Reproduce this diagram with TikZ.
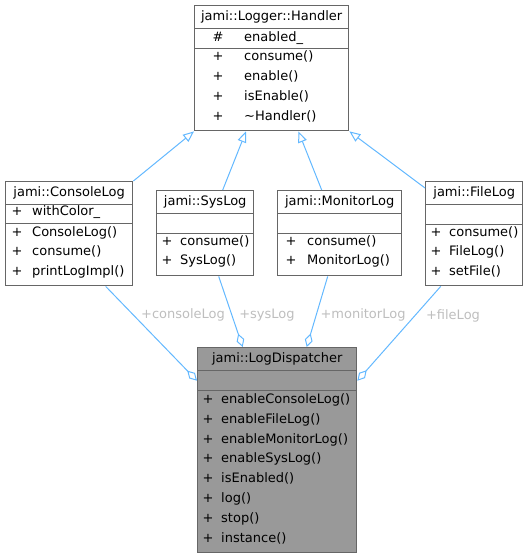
\documentclass[tikz,border=0pt]{standalone}
\usepackage{fontspec}
\setmainfont{DejaVu Sans}
\usetikzlibrary{arrows.meta}

\definecolor{boxline}{HTML}{666666}
\definecolor{focusfill}{HTML}{999999}
\definecolor{linkblue}{HTML}{63B8FF}
\definecolor{rolegray}{HTML}{BEBEBE}

\begin{document}
\begin{tikzpicture}[
    x=1pt, y=-1pt,
    every node/.style={font=\fontsize{13}{16}\selectfont, inner sep=0pt, text height=9.5pt, text depth=2.5pt},
    part/.style={draw=boxline, line width=1.4pt, fill=white, anchor=north west},
    focuspart/.style={part, fill=focusfill},
    vis/.style={anchor=center},
    member/.style={anchor=west},
    inherit/.style={draw=linkblue, line width=1pt, -{Triangle[open, length=11pt, width=9pt]}},
    aggr/.style={draw=linkblue, line width=1pt, -{Diamond[open, length=14pt, width=8pt]}},
    role/.style={text=rolegray}
]
\useasboundingbox (0,0) rectangle (528,559);

% base class
\node[part, minimum width=154pt, minimum height=23pt] (handler) at (194,5) {jami::Logger::Handler};
\node[part, minimum width=154pt, minimum height=20pt] (handler-attr) at (194,28) {};
\node[part, minimum width=154pt, minimum height=82pt] (handler-ops) at (194,48) {};
\node[vis] (handler-v0) at (218,38) {\#};
\node[member] (handler-a0) at (244,38) {enabled\_};
\foreach \y/\txt [count=\i] in {57/consume(), 77/enable(), 97/isEnable(), 117/\textasciitilde Handler()} {
  \node[vis] (handler-v\i) at (218,\y) {+};
  \node[member] (handler-m\i) at (244,\y) {\txt};
}

% ConsoleLog
\node[part, minimum width=127pt, minimum height=23pt] (console) at (5,181) {jami::ConsoleLog};
\node[part, minimum width=127pt, minimum height=19pt] (console-attr) at (5,204) {};
\node[part, minimum width=127pt, minimum height=62pt] (console-ops) at (5,223) {};
\node[vis] (console-v0) at (17,212) {+};
\node[member] (console-a0) at (32,212) {withColor\_};
\foreach \y/\txt [count=\i] in {233/ConsoleLog(), 252/consume(), 272/printLogImpl()} {
  \node[vis] (console-v\i) at (17,\y) {+};
  \node[member] (console-m\i) at (32,\y) {\txt};
}

% SysLog
\node[part, minimum width=97pt, minimum height=23pt] (syslog) at (156,190) {jami::SysLog};
\node[part, minimum width=97pt, minimum height=20pt] (syslog-attr) at (156,213) {};
\node[part, minimum width=97pt, minimum height=42pt] (syslog-ops) at (156,233) {};
\foreach \y/\txt [count=\i] in {242/consume(), 261/SysLog()} {
  \node[vis] (syslog-v\i) at (167,\y) {+};
  \node[member] (syslog-m\i) at (180,\y) {\txt};
}

% MonitorLog
\node[part, minimum width=124pt, minimum height=23pt] (monitor) at (277,190) {jami::MonitorLog};
\node[part, minimum width=124pt, minimum height=20pt] (monitor-attr) at (277,213) {};
\node[part, minimum width=124pt, minimum height=42pt] (monitor-ops) at (277,233) {};
\foreach \y/\txt [count=\i] in {242/consume(), 261/MonitorLog()} {
  \node[vis] (monitor-v\i) at (291,\y) {+};
  \node[member] (monitor-m\i) at (307,\y) {\txt};
}

% FileLog
\node[part, minimum width=97pt, minimum height=23pt] (filelog) at (425,181) {jami::FileLog};
\node[part, minimum width=97pt, minimum height=20pt] (filelog-attr) at (425,204) {};
\node[part, minimum width=97pt, minimum height=61pt] (filelog-ops) at (425,224) {};
\foreach \y/\txt [count=\i] in {233/consume(), 252/FileLog(), 272/setFile()} {
  \node[vis] (filelog-v\i) at (436,\y) {+};
  \node[member] (filelog-m\i) at (449,\y) {\txt};
}

% LogDispatcher
\node[focuspart, minimum width=159pt, minimum height=23pt] (dispatcher) at (197,347) {jami::LogDispatcher};
\node[focuspart, minimum width=159pt, minimum height=20pt] (dispatcher-attr) at (197,370) {};
\node[focuspart, minimum width=159pt, minimum height=162pt] (dispatcher-ops) at (197,390) {};
\foreach \y/\txt [count=\i] in {400/enableConsoleLog(), 420/enableFileLog(), 440/enableMonitorLog(),
    459/enableSysLog(), 479/isEnabled(), 499/log(), 519/stop(), 539/instance()} {
  \node[vis] (dispatcher-v\i) at (208,\y) {+};
  \node[member] (dispatcher-m\i) at (221,\y) {\txt};
}

% inheritance
\draw[inherit] (console.north east) -- (handler-ops.south west);
\draw[inherit] ([xshift=17.5pt]syslog.north) -- ([xshift=52pt]handler-ops.south west);
\draw[inherit] ([xshift=-18pt]monitor.north) -- ([xshift=-51pt]handler-ops.south east);
\draw[inherit] ([yshift=-7pt]filelog.north west) -- (handler-ops.south east);

% aggregation
\draw[aggr] ([xshift=36.5pt]console-ops.south) -- (dispatcher-attr.west);
\draw[aggr] ([xshift=13.5pt]syslog-ops.south) -- ([xshift=-34.5pt]dispatcher.north);
\draw[aggr] ([xshift=-12pt]monitor-ops.south) -- ([xshift=29.5pt]dispatcher.north);
\draw[aggr] ([xshift=-33.5pt]filelog-ops.south) -- (dispatcher-attr.east);

\node[role] (role-console) at (183,315) {+consoleLog};
\node[role] (role-syslog) at (267,315) {+sysLog};
\node[role] (role-monitor) at (363,315) {+monitorLog};
\node[role] (role-filelog) at (453,316) {+fileLog};

\end{tikzpicture}
\end{document}
